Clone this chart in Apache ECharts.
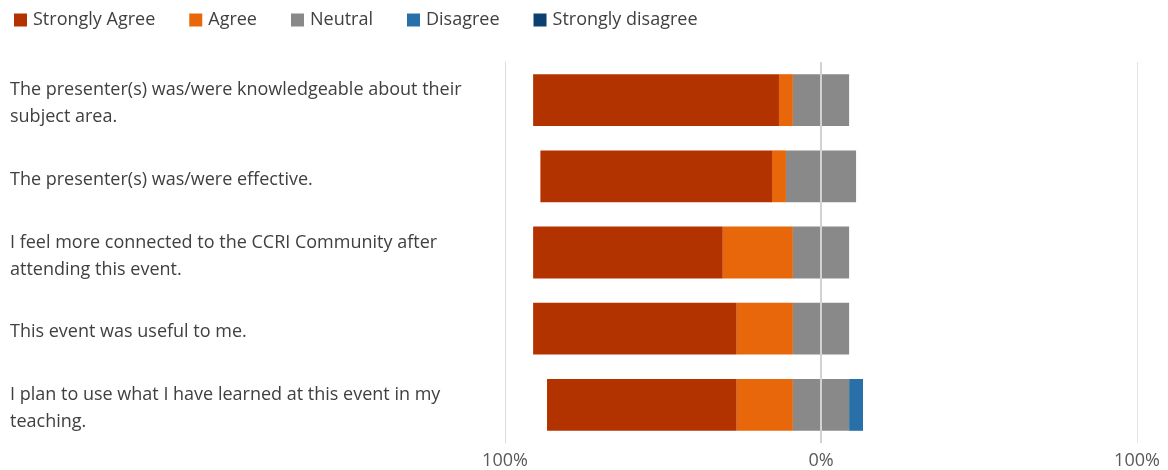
<!DOCTYPE html>
<html>
<head>
<meta charset="utf-8">
<script src="https://cdn.jsdelivr.net/npm/echarts@6/dist/echarts.min.js"></script>
<style>
  html, body { margin: 0; padding: 0; background: #fff; }
  #chart { width: 1168px; height: 470px; }
</style>
</head>
<body>
<div id="chart"></div>
<script>
// Survey statements (top to bottom)
const statements = [
  'The presenter(s) was/were knowledgeable about their subject area.',
  'The presenter(s) was/were effective.',
  'I feel more connected to the CCRI Community after attending this event.',
  'This event was useful to me.',
  'I plan to use what I have learned at this event in my teaching.'
];

// Share of responses per answer (%)
const stronglyAgree    = [77.8, 73.3, 60.0, 64.4, 60.0];
const agree            = [4.4, 4.4, 22.2, 17.8, 17.8];
const neutral          = [17.8, 22.2, 17.8, 17.8, 17.8];
const disagree         = [0, 0, 0, 0, 4.4];
const stronglyDisagree = [0, 0, 0, 0, 0];

const axisTicks = [-100, 0, 100];

const colors = {
  sa: '#B33300',
  a: '#E8670A',
  n: '#898989',
  d: '#2A70A8',
  sd: '#0C3F72'
};

const FONT = '"Open Sans", "Noto Sans", sans-serif';

// Agreement goes left of zero, disagreement right; neutral is split across zero.
const neg = arr => arr.map(v => -v);
const half = arr => arr.map(v => v / 2);

const barBase = {
  type: 'bar',
  stack: 'likert',
  barWidth: '68%',
  emphasis: { disabled: true }
};

const chart = echarts.init(document.getElementById('chart'), null, { renderer: 'canvas' });

chart.setOption({
  animation: false,
  textStyle: { fontFamily: FONT },
  legend: {
    left: 9,
    top: 6,
    icon: 'rect',
    itemWidth: 13,
    itemHeight: 13,
    itemGap: 34,
    textStyle: { fontSize: 18, color: '#404040', fontFamily: FONT, padding: [0, 0, 0, 1] },
    data: ['Strongly Agree', 'Agree', 'Neutral', 'Disagree', 'Strongly disagree']
  },
  grid: { left: 505, right: 31, top: 62, bottom: 27, containLabel: false },
  xAxis: {
    type: 'value',
    min: -100,
    max: 100,
    interval: 100,
    axisLine: { show: false },
    axisTick: { show: false },
    splitLine: { show: true, lineStyle: { color: '#e3e3e3', width: 1 } },
    axisLabel: {
      color: '#595959',
      fontSize: 18,
      margin: 9,
      formatter: v => axisTicks.includes(v) ? Math.abs(v) + '%' : ''
    }
  },
  yAxis: {
    type: 'category',
    inverse: true,
    data: statements,
    axisLine: { show: true, onZero: false, lineStyle: { color: '#dcdcdc' } },
    axisTick: { show: false },
    axisLabel: {
      align: 'left',
      margin: 495,
      width: 470,
      overflow: 'break',
      fontSize: 18,
      lineHeight: 27,
      color: '#404040',
      // nudge statement text a little below the bar centre line
      formatter: v => '{s|' + v + '}',
      rich: {
        s: { fontSize: 18, lineHeight: 27, color: '#404040', padding: [7, 0, 0, 0] }
      }
    }
  },
  series: [
    Object.assign({}, barBase, { name: 'Neutral', data: neg(half(neutral)), itemStyle: { color: colors.n },
      markLine: {
        silent: true,
        symbol: 'none',
        label: { show: false },
        lineStyle: { color: '#d2d2d2', width: 2, type: 'solid' },
        data: [{ xAxis: 0 }],
        z: 10
      }
    }),
    Object.assign({}, barBase, { name: 'Agree', data: neg(agree), itemStyle: { color: colors.a } }),
    Object.assign({}, barBase, { name: 'Strongly Agree', data: neg(stronglyAgree), itemStyle: { color: colors.sa } }),
    Object.assign({}, barBase, { name: 'Neutral', data: half(neutral), itemStyle: { color: colors.n } }),
    Object.assign({}, barBase, { name: 'Disagree', data: disagree, itemStyle: { color: colors.d } }),
    Object.assign({}, barBase, { name: 'Strongly disagree', data: stronglyDisagree, itemStyle: { color: colors.sd } })
  ]
});
</script>
</body>
</html>
